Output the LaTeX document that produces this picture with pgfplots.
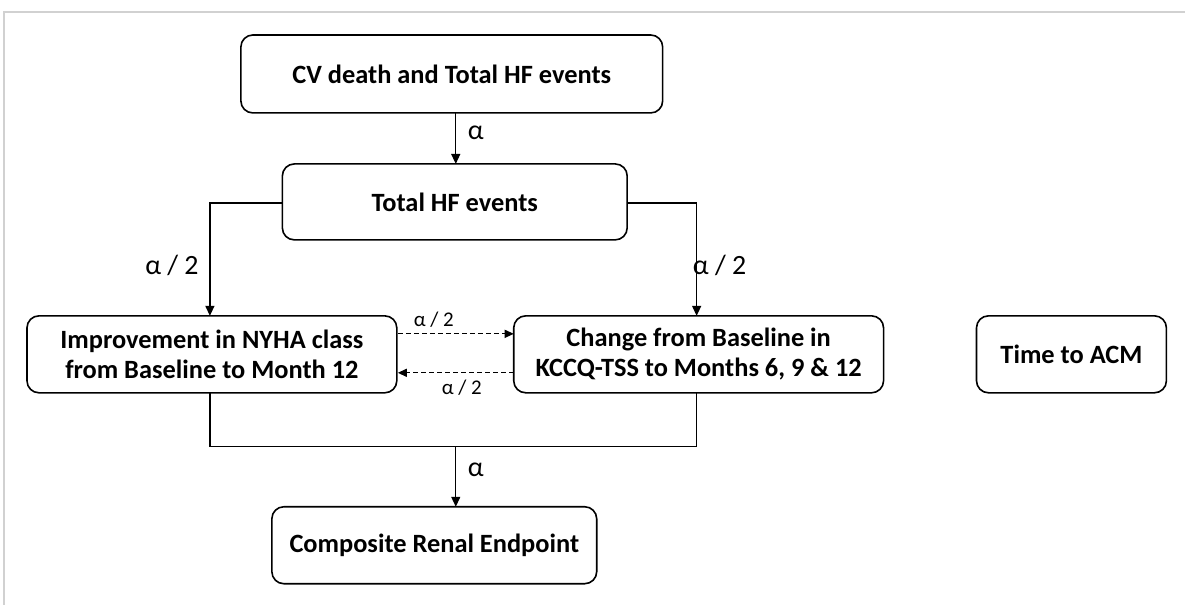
\documentclass[border=0pt]{standalone}
\usepackage{pgfplots}
\pgfplotsset{compat=1.18}
\usepackage{fontspec}
\setmainfont{Carlito}
\usetikzlibrary{arrows.meta}
\begin{document}
\begin{tikzpicture}[
  box/.style={draw, line width=1.6bp, rounded corners=12bp, align=center,
    font=\bfseries\fontsize{26.5}{30}\selectfont, inner sep=0pt},
  lab/.style={font=\fontsize{28}{30}\selectfont, inner sep=0pt},
  slab/.style={font=\fontsize{21}{24}\selectfont, inner sep=0pt},
  ar/.style={line width=1.4bp, -{Triangle[length=10bp,width=9bp]}},
  ln/.style={line width=1.4bp},
  da/.style={line width=1.3bp, dash pattern=on 5bp off 3bp, -{Triangle[length=9bp,width=8bp]}}]
\begin{axis}[width=1186bp,height=605bp,scale only axis,xmin=0,xmax=1186,ymin=0,ymax=605,
  y dir=reverse,axis lines=none,clip=false,enlargelimits=false]
\path (axis cs:0,0) rectangle (axis cs:1186,605);
\draw[black!18, line width=1.2bp] (axis cs:4,605) -- (axis cs:4,12) -- (axis cs:1186,12);
% boxes
\node[box, minimum width=422bp, minimum height=78bp] at (axis cs:452,74) {CV death and Total HF events};
\node[box, minimum width=345bp, minimum height=76bp] at (axis cs:455,202) {Total HF events};
\node[box, minimum width=370bp, minimum height=77bp] at (axis cs:212,354.5) {Improvement in NYHA class\\from Baseline to Month 12};
\node[box, minimum width=370bp, minimum height=77bp] at (axis cs:699,354.5) {Change from Baseline in\\KCCQ-TSS to Months 6, 9 \& 12};
\node[box, minimum width=190bp, minimum height=77bp] at (axis cs:1072,354.5) {Time to ACM};
\node[box, minimum width=325bp, minimum height=77bp] at (axis cs:434.5,545.5) {Composite Renal Endpoint};
% connectors
\draw[ar] (axis cs:456,113) -- (axis cs:456,164);
\draw[ar] (axis cs:282.5,203) -- (axis cs:210,203) -- (axis cs:210,316);
\draw[ar] (axis cs:627,203) -- (axis cs:697,203) -- (axis cs:697,316);
\draw[ln] (axis cs:210,393) -- (axis cs:210,447) -- (axis cs:697,447) -- (axis cs:697,393);
\draw[ar] (axis cs:456,447) -- (axis cs:456,507);
\draw[da] (axis cs:398,334) -- (axis cs:514,334);
\draw[da] (axis cs:514,373) -- (axis cs:398,373);
% labels
\node[lab] at (axis cs:476,133) {α};
\node[lab] at (axis cs:476,470) {α};
\node[lab] at (axis cs:172,266) {α / 2};
\node[lab] at (axis cs:720,266) {α / 2};
\node[slab] at (axis cs:434,320) {α / 2};
\node[slab] at (axis cs:462,388) {α / 2};
\end{axis}
\end{tikzpicture}
\end{document}
